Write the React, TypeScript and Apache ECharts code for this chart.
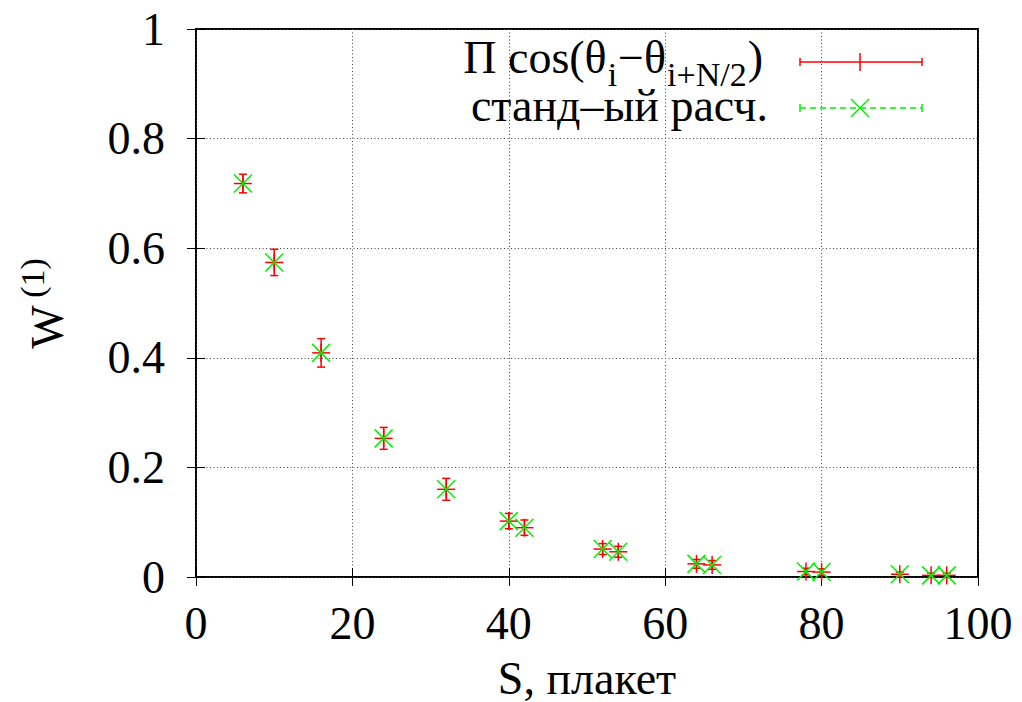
import React, { useEffect, useRef } from "react";
import * as echarts from "echarts";

// S, плакет
const sValues = [6, 10, 16, 24, 32, 40, 42, 52, 54, 64, 66, 78, 80, 90, 94, 96];
// Π cos(θi−θi+N/2)
const wCos = [0.718, 0.574, 0.409, 0.253, 0.16, 0.102, 0.09, 0.051, 0.046, 0.024, 0.022, 0.01, 0.009, 0.005, 0.003, 0.003];
const wCosErr = [0.017, 0.024, 0.026, 0.02, 0.02, 0.014, 0.014, 0.01, 0.01, 0.008, 0.008, 0.006, 0.006, 0.004, 0.004, 0.004];
// станд–ый расч.
const wStd = [0.718, 0.574, 0.409, 0.253, 0.16, 0.102, 0.09, 0.051, 0.046, 0.024, 0.022, 0.01, 0.009, 0.005, 0.003, 0.003];

const xTickMin = 0, xTickMax = 100, xTickStep = 20;
const yTickMin = 0, yTickMax = 1, yTickStep = 0.2;

const FONT = "'Liberation Serif', 'Times New Roman', 'DejaVu Serif', serif";
const RED = "#ff0000";
const GREEN = "#00f000";
const FS = 46;
const SUB = 34;

function measure(text: string, size: number): number {
  const c = document.createElement("canvas").getContext("2d");
  if (!c) return text.length * size * 0.5;
  c.font = `${size}px ${FONT}`;
  return c.measureText(text).width;
}

export default function App() {
  const ref = useRef<HTMLDivElement>(null);
  useEffect(() => {
    if (!ref.current) return;
    const chart = echarts.init(ref.current, null, { renderer: "svg" });

    const redData = sValues.map((s, i) => [s, wCos[i], wCosErr[i]]);
    const greenData = sValues.map((s, i) => [s, wStd[i]]);

    const pieces: [string, boolean][] = [
      ["Π cos(θ", false],
      ["i", true],
      ["−θ", false],
      ["i+N/2", true],
      [")", false],
    ];
    const R1 = 764;
    const R2 = 768;
    const widths = pieces.map(([t, sub]) => measure(t, sub ? SUB : FS) + 1);
    const total = widths.reduce((a, b) => a + b, 0);
    let px = R1 - total;
    const line1Y = 57;
    const legendTexts: any[] = pieces.map(([t, sub], i) => {
      const el = {
        type: "text",
        x: px,
        y: sub ? 74 : line1Y,
        style: {
          text: t,
          fontSize: sub ? SUB : FS,
          fontFamily: FONT,
          fill: "#000",
          align: "left",
          verticalAlign: "middle",
        },
      };
      px += widths[i];
      return el;
    });

    const L1 = 800, L2 = 922, LM = 860;
    const ly1 = 62, ly2 = 108;
    const redSt = { stroke: RED, lineWidth: 1.5 };
    const greenSt = { stroke: GREEN, lineWidth: 1.5 };

    const txt = (text: string, x: number, y: number, size: number, align: string, rot = 0) => ({
      type: "text",
      x,
      y,
      rotation: rot,
      style: { text, fontSize: size, fontFamily: FONT, fill: "#000", align, verticalAlign: "middle" },
    });

    const graphics: any[] = [
      ...legendTexts,
      txt("станд–ый расч.", R2, 105, FS, "right"),
      { type: "line", shape: { x1: L1, y1: ly1, x2: L2, y2: ly1 }, style: redSt },
      { type: "line", shape: { x1: L1, y1: ly1 - 4, x2: L1, y2: ly1 + 4 }, style: redSt },
      { type: "line", shape: { x1: L2, y1: ly1 - 4, x2: L2, y2: ly1 + 4 }, style: redSt },
      { type: "line", shape: { x1: LM, y1: ly1 - 9, x2: LM, y2: ly1 + 9 }, style: redSt },
      { type: "line", shape: { x1: L1, y1: ly2, x2: L2, y2: ly2 }, style: { ...greenSt, lineDash: [6, 4] } },
      { type: "line", shape: { x1: L1, y1: ly2 - 4, x2: L1, y2: ly2 + 4 }, style: greenSt },
      { type: "line", shape: { x1: L2, y1: ly2 - 4, x2: L2, y2: ly2 + 4 }, style: greenSt },
      { type: "line", shape: { x1: LM - 9, y1: ly2 - 9, x2: LM + 9, y2: ly2 + 9 }, style: greenSt },
      { type: "line", shape: { x1: LM - 9, y1: ly2 + 9, x2: LM + 9, y2: ly2 - 9 }, style: greenSt },
      txt("S, плакет", 587, 678, FS, "center"),
      txt("W", 47.5, 327, FS, "center", Math.PI / 2),
      txt("(1)", 32, 278, SUB, "center", Math.PI / 2),
    ];

    const axisCommon = {
      type: "value" as const,
      axisLine: { show: false },
      axisTick: { show: true, inside: true, length: 9, lineStyle: { color: "#000", width: 1 } },
    };

    chart.setOption({
      animation: false,
      backgroundColor: "#fff",
      textStyle: { fontFamily: FONT },
      grid: {
        left: 196,
        right: 44,
        top: 29,
        bottom: 125,
        show: true,
        borderColor: "#000",
        borderWidth: 2,
        backgroundColor: "transparent",
      },
      xAxis: [
        {
          ...axisCommon,
          min: xTickMin,
          max: xTickMax,
          interval: xTickStep,
          position: "bottom",
          axisLabel: { show: true, margin: 23, fontSize: FS, color: "#000", fontFamily: FONT },
          splitLine: { show: true, lineStyle: { color: "#444", width: 1, type: [1, 2.5] } },
        },
        {
          ...axisCommon,
          min: xTickMin,
          max: xTickMax,
          interval: xTickStep,
          position: "top",
          axisLabel: { show: false },
          splitLine: { show: false },
        },
      ],
      yAxis: [
        {
          ...axisCommon,
          min: yTickMin,
          max: yTickMax,
          interval: yTickStep,
          position: "left",
          axisLabel: {
            show: true,
            margin: 31,
            fontSize: FS,
            color: "#000",
            fontFamily: FONT,
            formatter: (v: number) => String(Math.round(v * 10) / 10),
          },
          splitLine: { show: true, lineStyle: { color: "#444", width: 1, type: [1, 2.5] } },
        },
        {
          ...axisCommon,
          min: yTickMin,
          max: yTickMax,
          interval: yTickStep,
          position: "right",
          axisLabel: { show: false },
          splitLine: { show: false },
        },
      ],
      series: [
        {
          type: "custom",
          name: "cos",
          clip: false,
          data: redData,
          renderItem: (_p: any, api: any) => {
            const x = api.value(0), y = api.value(1), e = api.value(2);
            const c = api.coord([x, y]);
            const t = api.coord([x, y + e]);
            const b = api.coord([x, y - e]);
            const cap = 4, m = 9;
            return {
              type: "group",
              children: [
                { type: "line", shape: { x1: c[0], y1: t[1], x2: c[0], y2: b[1] }, style: redSt },
                { type: "line", shape: { x1: c[0] - cap, y1: t[1], x2: c[0] + cap, y2: t[1] }, style: redSt },
                { type: "line", shape: { x1: c[0] - cap, y1: b[1], x2: c[0] + cap, y2: b[1] }, style: redSt },
                { type: "line", shape: { x1: c[0] - m, y1: c[1], x2: c[0] + m, y2: c[1] }, style: redSt },
                { type: "line", shape: { x1: c[0], y1: c[1] - m, x2: c[0], y2: c[1] + m }, style: redSt },
              ],
            };
          },
        },
        {
          type: "custom",
          name: "std",
          clip: false,
          data: greenData,
          renderItem: (_p: any, api: any) => {
            const c = api.coord([api.value(0), api.value(1)]);
            const m = 9;
            return {
              type: "group",
              children: [
                { type: "line", shape: { x1: c[0] - m, y1: c[1] - m, x2: c[0] + m, y2: c[1] + m }, style: greenSt },
                { type: "line", shape: { x1: c[0] - m, y1: c[1] + m, x2: c[0] + m, y2: c[1] - m }, style: greenSt },
              ],
            };
          },
        },
      ],
      graphic: graphics,
    });

    return () => chart.dispose();
  }, []);

  return (
    <div
      ref={ref}
      style={{ position: "fixed", left: 0, top: 0, width: 1022, height: 702, background: "#fff" }}
    />
  );
}
